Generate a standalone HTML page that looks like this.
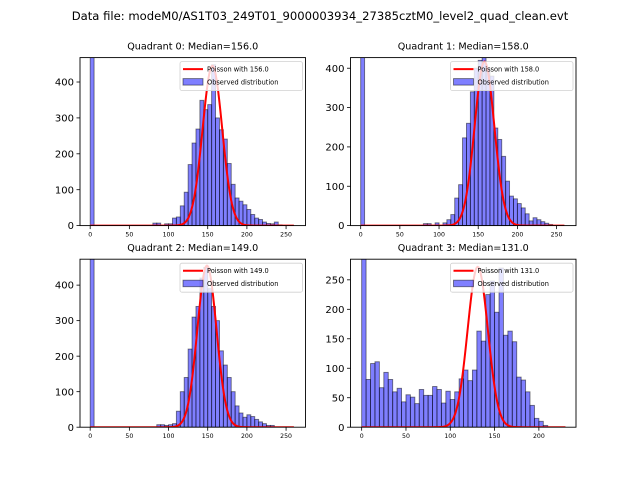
<!DOCTYPE html>
<html><head><meta charset="utf-8"><style>
body{margin:0;background:#fff}
svg{display:block;font-family:"DejaVu Sans","Liberation Sans",sans-serif}
</style></head><body>
<svg id="fig" width="640" height="480" xmlns="http://www.w3.org/2000/svg">
<rect width="640" height="480" fill="#fff"/>
<text x="320" y="20" text-anchor="middle" font-size="11.6">Data file: modeM0/AS1T03_249T01_9000003934_27385cztM0_level2_quad_clean.evt</text>
</svg>
<script>
const binWidth = 5;
const q0Counts = [2000,0,0,0,0,0,0,0,0,0,0,0,0,0,0,0,7,7,0,5,5,21,24,55,93,170,230,269,349,323,337,448,300,267,241,173,115,77,68,58,45,31,21,17,10,6,5,10,2];
const q1Counts = [2000,0,0,0,0,0,0,0,0,0,0,0,0,0,0,0,5,5,0,7,0,7,15,28,70,104,223,260,340,400,420,430,400,380,248,219,176,113,75,68,56,45,30,12,20,15,10,6,3];
const q2Counts = [2000,0,0,0,0,0,0,0,0,0,0,0,0,0,0,0,0,7,7,5,7,10,45,100,140,220,310,340,420,450,390,340,300,215,175,140,100,60,40,28,35,30,22,15,10,5,5];
const q3Counts = [2000,81,108,111,67,93,81,60,66,43,55,51,40,64,54,54,69,64,41,61,47,60,82,97,79,97,163,146,225,248,195,270,156,163,145,85,80,60,37,15,10,3];
const medians = [156.0,158.0,149.0,131.0];
const poissonPeaks = [445,417,455,272];
const yMaxes = [468,427,473,285];
const xMaxes = [274.8,274.8,274.8,241.9];
const xMins = [-13,-13,-13,-12.6];
const xTicks = [[0,50,100,150,200,250],[0,50,100,150,200,250],[0,50,100,150,200,250],[0,50,100,150,200]];
const yTicks = [[0,100,200,300,400],[0,100,200,300,400],[0,100,200,300,400],[0,50,100,150,200,250]];
const curveEnds = [260,260,260,230];
const allCounts = [q0Counts,q1Counts,q2Counts,q3Counts];

const NS = "http://www.w3.org/2000/svg";
const svg = document.getElementById('fig');
function mk(tag, attrs, parent){const e=document.createElementNS(NS,tag);for(const k in attrs)e.setAttribute(k,attrs[k]);(parent||svg).appendChild(e);return e;}
const lefts=[80,350.5,80,350.5], tops=[57.6,57.6,259.2,259.2], W=225.5, H=168;

for(let p=0;p<4;p++){
  const L=lefts[p], T=tops[p];
  const xs=v=>L+(v-xMins[p])/(xMaxes[p]-xMins[p])*W;
  const ys=v=>T+H-v/yMaxes[p]*H;
  const g=mk('g',{});
  
  
  const cp=mk('clipPath',{id:'c'+p},g);
  mk('rect',{x:L,y:T,width:W,height:H},cp);
  const plot=mk('g',{'clip-path':'url(#c'+p+')'},g);
  allCounts[p].forEach((c,i)=>{
    if(c<=0)return;
    const x0=xs(i*binWidth), x1=xs((i+1)*binWidth);
    const r=mk('rect',{x:x0,y:ys(c),width:x1-x0,height:ys(0)-ys(c),fill:'rgba(0,0,255,0.5)',stroke:'rgba(0,0,0,0.5)','stroke-width':0.9},plot);
    
    
  });
  let d='';
  for(let v=0;v<=curveEnds[p];v+=1){
    const s=Math.sqrt(medians[p]);
    const y=poissonPeaks[p]*Math.exp(-0.5*Math.pow((v-medians[p])/s,2));
    d+=(v?'L':'M')+xs(v).toFixed(2)+' '+ys(y).toFixed(2);
  }
  const line=mk('path',{d:d,fill:'none',stroke:'#ff0000','stroke-width':2},plot);
  
  
  mk('rect',{x:L,y:T,width:W,height:H,fill:'none',stroke:'#000','stroke-width':0.9},g);
  xTicks[p].forEach(t=>{
    mk('line',{x1:xs(t),x2:xs(t),y1:T+H,y2:T+H+3.5,stroke:'#000','stroke-width':0.8},g);
    const tx=mk('text',{x:xs(t),y:T+H+11,'text-anchor':'middle','font-size':6.2},g);
    tx.textContent=t;
    
    
  });
  yTicks[p].forEach(t=>{
    mk('line',{x1:L-3.5,x2:L,y1:ys(t),y2:ys(t),stroke:'#000','stroke-width':0.8},g);
    const tx=mk('text',{x:L-6,y:ys(t)+3.6,'text-anchor':'end','font-size':10},g);
    tx.textContent=t;
    
    
  });
  const ti=mk('text',{x:L+W/2,y:T-8,'text-anchor':'middle','font-size':9.6},g);
  ti.textContent='Quadrant '+p+': Median='+medians[p].toFixed(1);
  
  
  const lg=mk('g',{},g);
  
  
  const bx=L+W-125.5, by=T+4;
  mk('rect',{x:bx,y:by,width:122.5,height:29,rx:2,fill:'rgba(255,255,255,0.8)',stroke:'#d0d0d0','stroke-width':0.8},lg);
  mk('line',{x1:bx+3,x2:bx+23,y1:by+7.5,y2:by+7.5,stroke:'#ff0000','stroke-width':2},lg);
  const t1=mk('text',{x:bx+27,y:by+10,'font-size':6.6},lg);
  t1.textContent='Poisson with '+medians[p].toFixed(1);
  
  
  mk('rect',{x:bx+3,y:by+17,width:20,height:6.5,fill:'rgba(0,0,255,0.5)',stroke:'rgba(0,0,0,0.5)','stroke-width':0.9},lg);
  const t2=mk('text',{x:bx+27,y:by+23,'font-size':6.6},lg);
  t2.textContent='Observed distribution';
  
  
}
</script>
</body></html>
